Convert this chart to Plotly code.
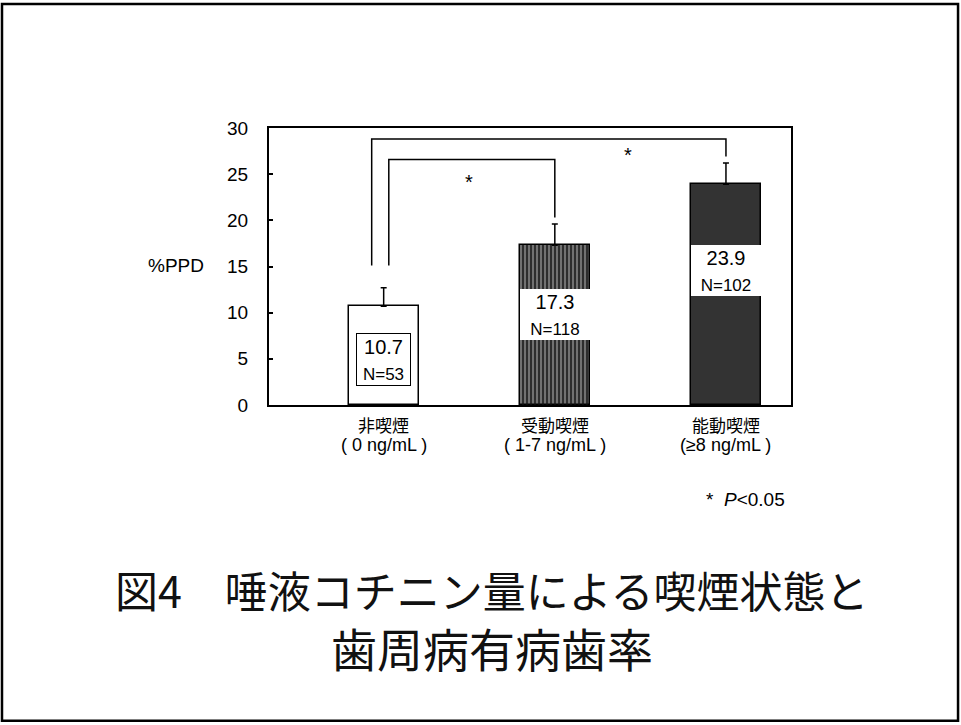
import plotly.graph_objects as go

# Salivary cotinine groups and the share of teeth with periodontal pockets (%PPD)
groups = ["非喫煙", "受動喫煙", "能動喫煙"]
ranges = ["( 0 ng/mL )", "( 1-7 ng/mL )", "(≥8 ng/mL )"]
ppd = [10.7, 17.3, 23.9]
ppd_err = [2.0, 2.3, 2.3]
n_subjects = [53, 118, 102]
y_ticks = [0, 5, 10, 15, 20, 25, 30]

# Significance brackets: (left group, right group, bracket height)
comparisons = [(0, 1, 26.6), (0, 2, 28.8)]

SANS = "Liberation Sans, Arial, Noto Sans CJK JP, sans-serif"
CJK = "Noto Sans CJK JP, sans-serif"
x_pos = list(range(len(groups)))

fig = go.Figure()

# Solid bar fills with outline and upper error bars
fig.add_trace(go.Bar(
    x=x_pos, y=ppd, width=0.41,
    marker=dict(color=["white", "#727272", "#333333"],
                line=dict(color="black", width=1.5)),
    error_y=dict(type="data", symmetric=False, array=ppd_err,
                 arrayminus=[0] * len(ppd), color="black", thickness=1.5, width=3),
    hoverinfo="skip", showlegend=False,
))

# Streaky texture laid over the passive-smoking bar
fig.add_trace(go.Bar(
    x=x_pos, y=ppd, width=0.41,
    marker=dict(
        color="rgba(0,0,0,0)",
        line=dict(width=0),
        pattern=dict(shape=["", "|", ""], fgcolor="#111111",
                     bgcolor="rgba(0,0,0,0)", size=4, solidity=0.35,
                     fillmode="replace"),
    ),
    hoverinfo="skip", showlegend=False,
))

# Brackets joining the compared groups, with the star between them
leg_offset = {1: 0.03, 2: -0.07}
star_pos = {1: (0.50, 24.2), 2: (1.43, 27.1)}
for left, right, top in comparisons:
    xl = x_pos[left] + leg_offset[right]
    xr = x_pos[right]
    fig.add_trace(go.Scatter(
        x=[xl, xl, xr, xr],
        y=[15.1, top, top, ppd[right] + ppd_err[right] + 0.7],
        mode="lines", line=dict(color="black", width=1.5),
        hoverinfo="skip", showlegend=False,
    ))
    sx, sy = star_pos[right]
    fig.add_annotation(x=sx, y=sy, text="*", showarrow=False,
                       font=dict(family=SANS, size=20, color="black"))

# Value / N label boxes inside the bars
box_y = [4.93, 9.8, 14.55]
box_w = [53, 68, 68]
box_h = [51, 49, 49]
for i in x_pos:
    fig.add_annotation(
        x=x_pos[i], y=box_y[i], showarrow=False,
        text=f"{ppd[i]}<br><span style='font-size:17px'>N={n_subjects[i]}</span>",
        font=dict(family=SANS, size=20, color="black"),
        bgcolor="white", bordercolor="black" if i == 0 else "white",
        borderwidth=1, borderpad=0, width=box_w[i], height=box_h[i],
        align="center", valign="middle",
    )

# Category labels under the axis
for i in x_pos:
    fig.add_annotation(x=x_pos[i], y=0, yref="paper", yanchor="middle",
                       yshift=-19, text=groups[i], showarrow=False,
                       font=dict(family=CJK, size=17, color="black"))
    fig.add_annotation(x=x_pos[i], y=0, yref="paper", yanchor="middle",
                       yshift=-40, text=ranges[i], showarrow=False,
                       font=dict(family=SANS, size=18, color="black"))

fig.add_annotation(x=-0.1207, y=0.505, xref="paper", yref="paper", xanchor="right",
                   text="%PPD", showarrow=False,
                   font=dict(family=SANS, size=19, color="black"))

fig.add_annotation(x=0.992, y=-0.386, xref="paper", yref="paper", xanchor="right",
                   text="*  <i>P</i>&lt;0.05", showarrow=False,
                   font=dict(family=SANS, size=19, color="black"))

# Figure caption
fig.add_annotation(x=0.427, y=-0.783, xref="paper", yref="paper",
                   text="図4　唾液コチニン量による喫煙状態と", showarrow=False,
                   font=dict(family=CJK, size=43, color="#111"))
fig.add_annotation(x=0.427, y=-1.0, xref="paper", yref="paper",
                   text="歯周病有病歯率", showarrow=False,
                   font=dict(family=CJK, size=46, color="#111"))

# Frame around the whole slide
fig.add_shape(type="rect", xref="paper", yref="paper",
              x0=-0.5115, x1=1.32, y0=-1.14, y1=1.4477,
              line=dict(color="black", width=2.5))

fig.update_layout(
    width=961, height=725,
    margin=dict(l=269, r=170, t=128, b=320),
    paper_bgcolor="white", plot_bgcolor="white",
    barmode="overlay",
    xaxis=dict(range=[-0.67, 2.38], showticklabels=False, ticks="",
               showgrid=False, zeroline=False, showline=True,
               linecolor="black", linewidth=2, mirror=True),
    yaxis=dict(range=[0, 30], tickvals=y_ticks, ticks="inside", ticklen=4,
               tickcolor="black", tickwidth=1.5, ticklabelstandoff=15,
               tickfont=dict(family=SANS, size=19, color="black"),
               showgrid=False, zeroline=False, showline=True,
               linecolor="black", linewidth=2, mirror=True),
    bargap=0,
)

fig.write_html("out.html")
